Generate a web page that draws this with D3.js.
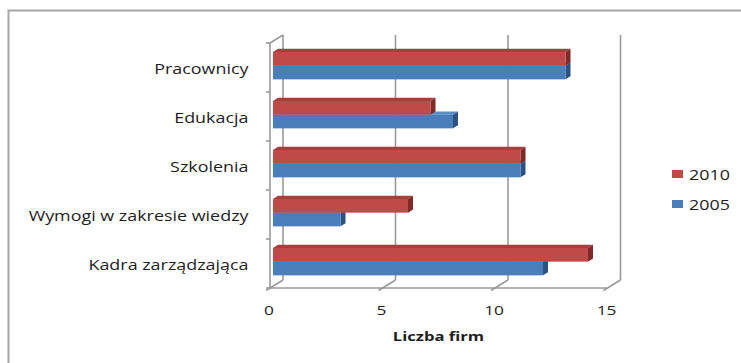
<!DOCTYPE html>
<html>
<head>
<meta charset="utf-8">
<script src="https://cdn.jsdelivr.net/npm/d3@7"></script>
<style>
  body { margin: 0; background: #fff; }
  svg text { font-family: "Open Sans", sans-serif; fill: #1e1e1e; }
</style>
</head>
<body>
<div id="chart"></div>
<script>
// Chart data
var categories = ["Pracownicy", "Edukacja", "Szkolenia", "Wymogi w zakresie wiedzy", "Kadra zarządzająca"];
var values2005 = [13, 8, 11, 3, 12];
var values2010 = [13, 7, 11, 6, 14];
var seriesNames = ["2010", "2005"];
var xTicks = [0, 5, 10, 15];

var w = 741, h = 363;
var SX = 1.28; // horizontal stretch of text, as in the picture

// depth offset of the 3D box (front plane -> back wall)
var DX = 13, DY = -8;

var svg = d3.select("#chart").append("svg")
    .attr("width", w)
    .attr("height", h);

// outer frame (only left and top visible)
svg.append("rect")
    .attr("x", 8.5).attr("y", 10.5)
    .attr("width", 800).attr("height", 400)
    .attr("fill", "none")
    .attr("stroke", "#a6a6a6")
    .attr("stroke-width", 2);

var xScale = d3.scaleLinear().domain([0, 15]).range([270, 607.5]);
var yScale = d3.scaleBand().domain(categories).range([43, 288]);

var y0 = yScale.range()[0], y1 = yScale.range()[1];
var grid = svg.append("g").attr("stroke", "#9a9a9a").attr("stroke-width", 1.6).attr("fill", "none");

// back wall gridlines
grid.selectAll(".grid").data(xTicks).enter().append("line")
    .attr("x1", function(d) { return xScale(d) + DX; })
    .attr("x2", function(d) { return xScale(d) + DX; })
    .attr("y1", y0 + DY)
    .attr("y2", y1 + DY);

// floor: front edge and diagonals
grid.append("line")
    .attr("x1", xScale(0)).attr("x2", xScale(15))
    .attr("y1", y1).attr("y2", y1);
grid.selectAll(".diag").data(xTicks).enter().append("line")
    .attr("x1", function(d) { return xScale(d) - 4; })
    .attr("y1", y1 + 2.5)
    .attr("x2", function(d) { return xScale(d) + DX; })
    .attr("y2", y1 + DY);

// side wall: front vertical, top diagonal, ticks
grid.append("line")
    .attr("x1", xScale(0)).attr("x2", xScale(0))
    .attr("y1", y0).attr("y2", y1);
grid.append("line")
    .attr("x1", xScale(0)).attr("y1", y0)
    .attr("x2", xScale(0) + DX).attr("y2", y0 + DY);
var bounds = categories.map(function(c) { return yScale(c); }).concat([y1]);
grid.selectAll(".ytick").data(bounds).enter().append("line")
    .attr("x1", xScale(0) - 4).attr("x2", xScale(0))
    .attr("y1", function(d) { return d; })
    .attr("y2", function(d) { return d; });

// bars (3D boxes)
var bx = 3, by = -1.85;   // bar front face offset from front plane
var bdx = 5, bdy = -3.1;  // bar depth
var barH = 13.7;

var colors = {
    "2005": { front: "#4a7ebb", top: "#5b8cc6", side: "#2c5282" },
    "2010": { front: "#be4b48", top: "#a53f3c", side: "#7e2b29" }
};

function drawBar(g, v, yTop, c) {
    var xl = xScale(0) + bx, xr = xScale(v) + bx;
    var yt = yTop + by, yb = yt + barH;
    g.append("polygon")
        .attr("points", [[xl, yt], [xr, yt], [xr + bdx, yt + bdy], [xl + bdx, yt + bdy]].join(" "))
        .attr("fill", c.top);
    g.append("polygon")
        .attr("points", [[xr, yt], [xr + bdx, yt + bdy], [xr + bdx, yb + bdy], [xr, yb]].join(" "))
        .attr("fill", c.side);
    g.append("rect")
        .attr("x", xl).attr("y", yt)
        .attr("width", xr - xl).attr("height", barH)
        .attr("fill", c.front);
}

var bars = svg.append("g");
categories.forEach(function(cat, i) {
    var mid = yScale(cat) + yScale.bandwidth() / 2;
    drawBar(bars, values2005[i], mid, colors["2005"]);
    drawBar(bars, values2010[i], mid - barH, colors["2010"]);
});

// category labels
svg.selectAll(".cat").data(categories).enter().append("text")
    .attr("transform", function(d) {
        return "translate(248.5," + (yScale(d) + yScale.bandwidth() / 2 + 6) + ") scale(" + SX + ",1)";
    })
    .attr("text-anchor", "end")
    .style("font-size", "14px")
    .text(function(d) { return d; });

// value tick labels
svg.selectAll(".xlab").data(xTicks).enter().append("text")
    .attr("transform", function(d) {
        return "translate(" + (xScale(d) - 1) + ",315) scale(" + SX + ",1)";
    })
    .attr("text-anchor", "middle")
    .style("font-size", "13.5px")
    .text(function(d) { return d; });

// axis title
svg.append("text")
    .attr("transform", "translate(438.5,341) scale(" + SX + ",1)")
    .attr("text-anchor", "middle")
    .style("font-size", "13px")
    .style("font-weight", "bold")
    .text("Liczba firm");

// legend
var legend = svg.selectAll(".leg").data(seriesNames).enter().append("g")
    .attr("transform", function(d, i) { return "translate(672," + (170 + i * 30) + ")"; });
legend.append("rect")
    .attr("width", 11).attr("height", 8)
    .attr("fill", function(d) { return colors[d].front; });
legend.append("text")
    .attr("transform", "translate(17,9.5) scale(" + SX + ",1)")
    .style("font-size", "14px")
    .text(function(d) { return d; });
</script>
</body>
</html>
